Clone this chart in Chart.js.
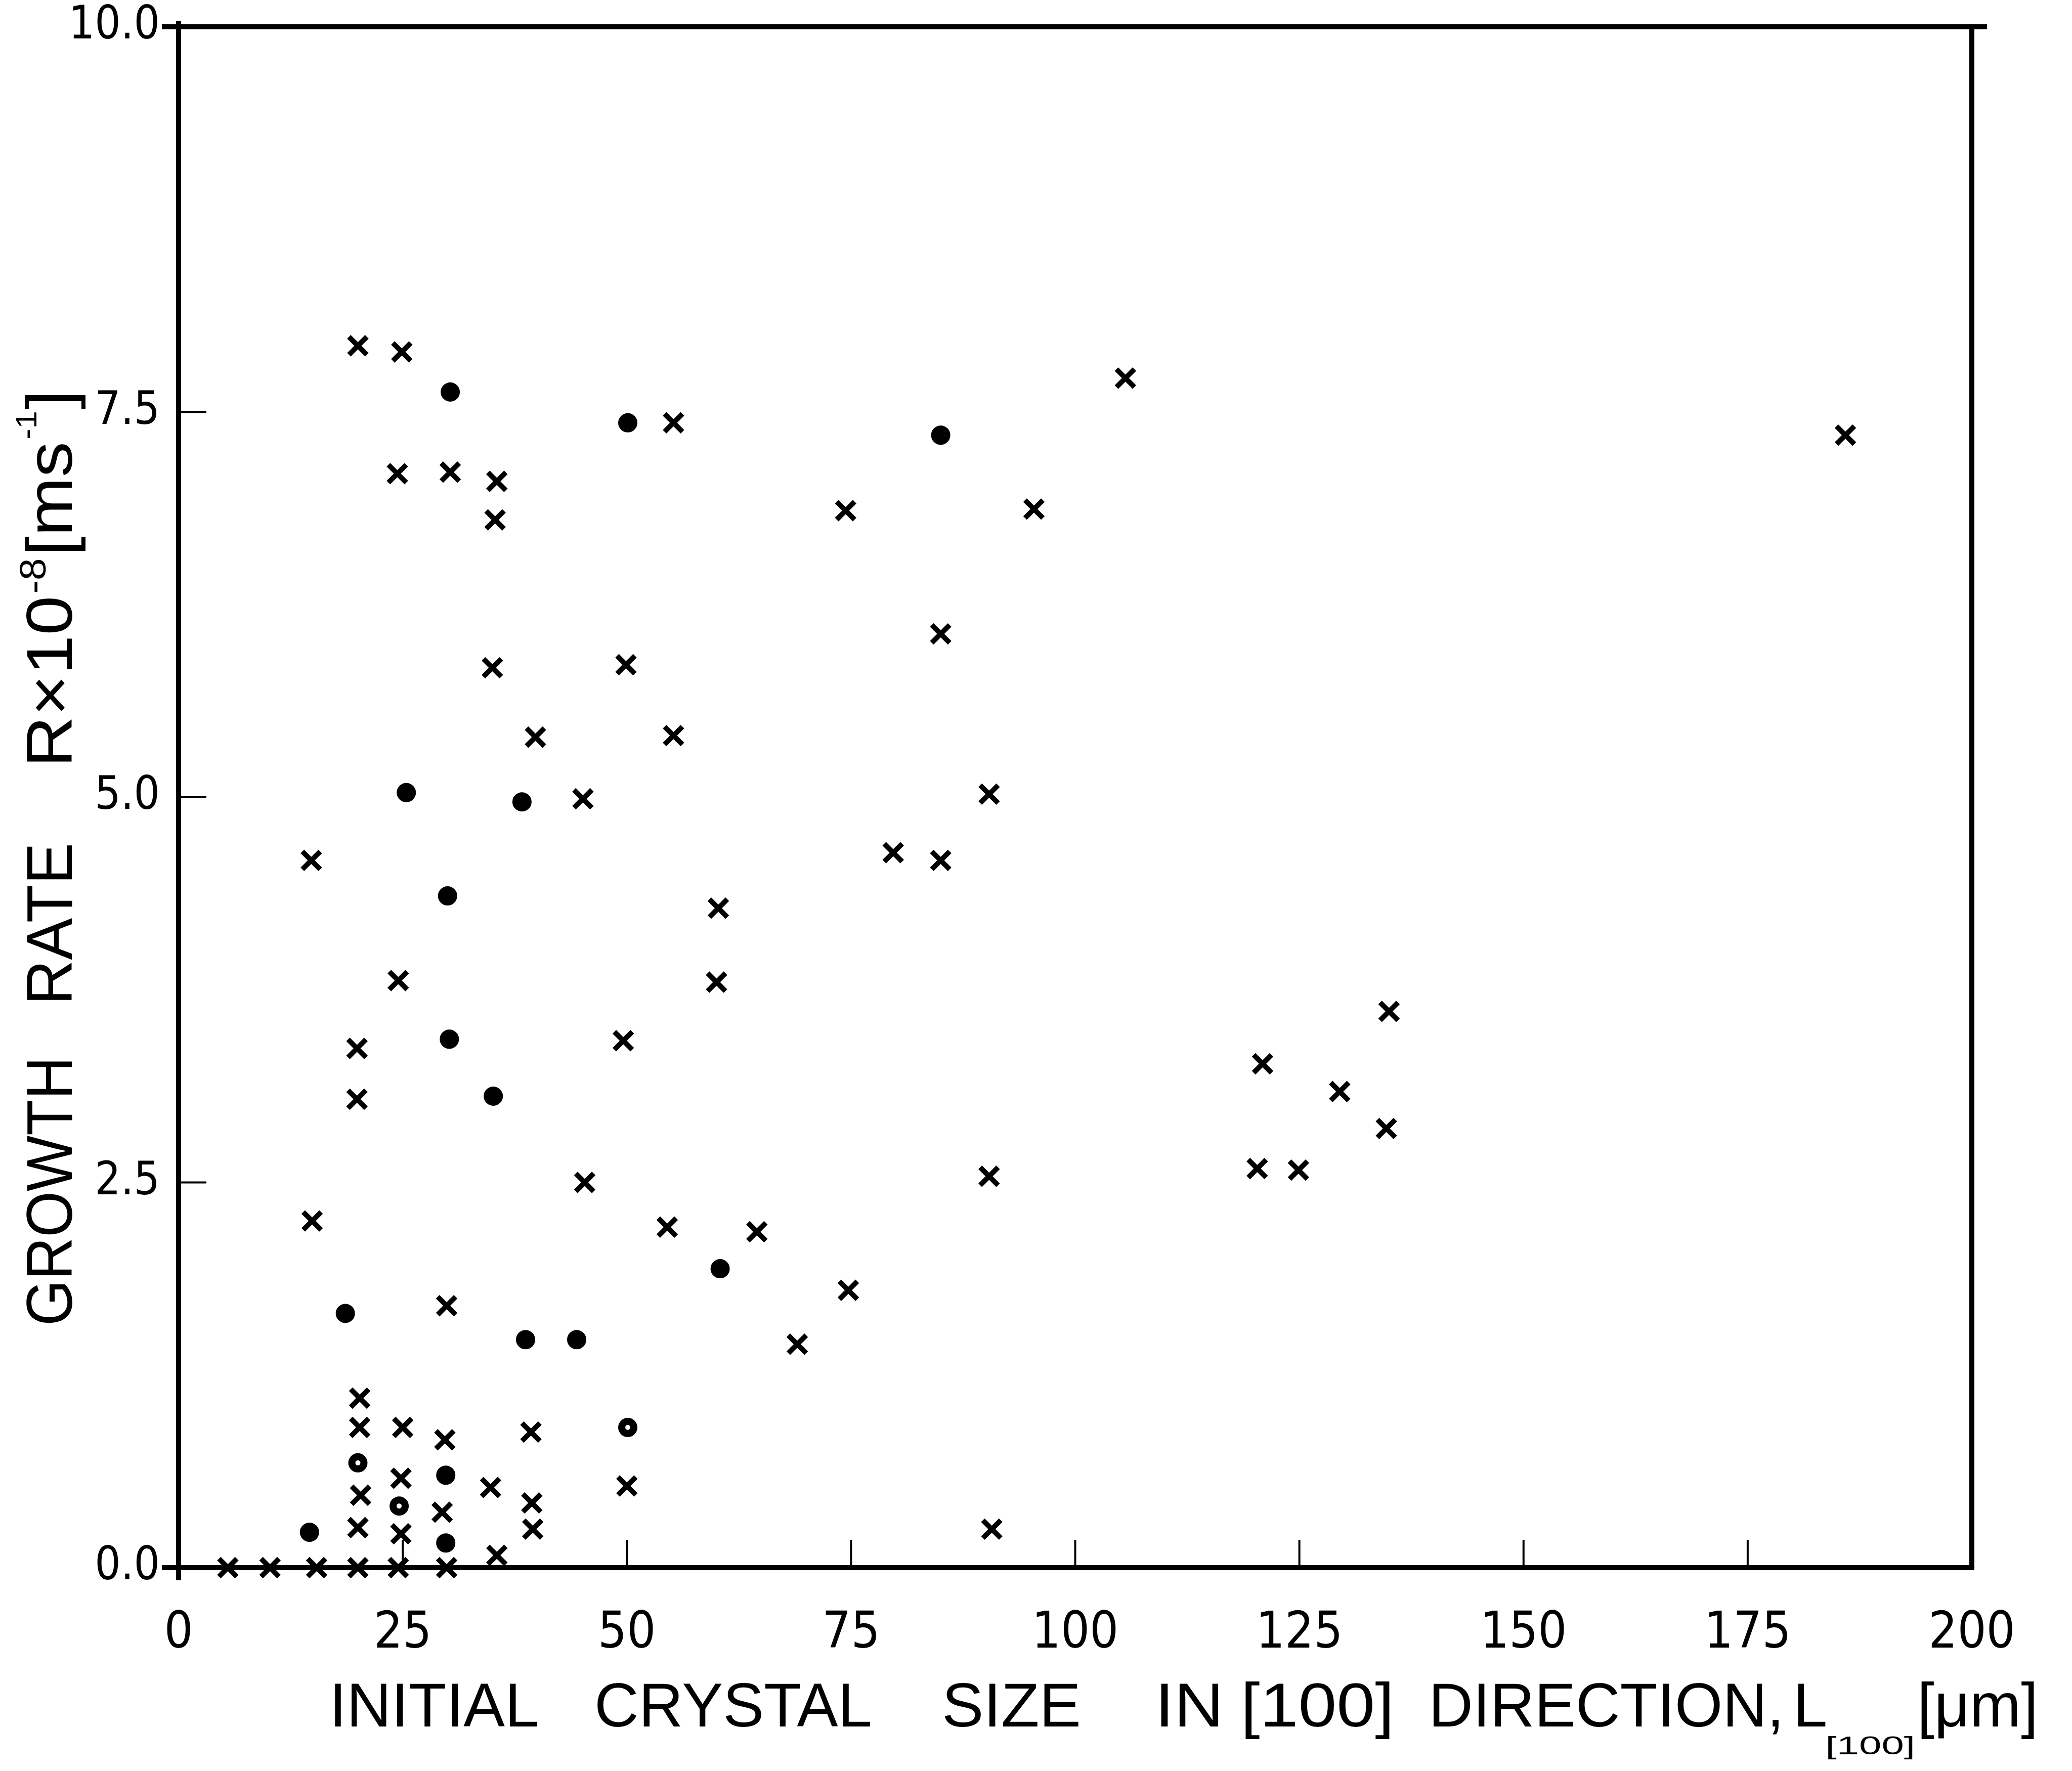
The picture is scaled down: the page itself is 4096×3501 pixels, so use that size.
<!DOCTYPE html>
<html>
<head>
<meta charset="utf-8">
<script src="https://cdn.jsdelivr.net/npm/chart.js@4/dist/chart.umd.min.js"></script>
<style>
html, body { margin: 0; padding: 0; background: #ffffff; }
canvas { display: block; }
</style>
</head>
<body>
<canvas id="growth" width="4096" height="3501"></canvas>
<script>
// Growth rate R (x 10^-8 m/s) against initial crystal size L[100] (um)

const xTickValues = [0, 25, 50, 75, 100, 125, 150, 175, 200];
const xTickLabels = ['0', '25', '50', '75', '100', '125', '150', '175', '200'];
const yTickValues = [0, 2.5, 5, 7.5, 10];
const yTickLabels = ['0.0', '2.5', '5.0', '7.5', '10.0'];

// crosses
const crossX = [5.5, 10.2, 15.4, 20.0, 24.5, 29.9,
  20.2, 20.2, 25.0, 29.7, 39.3, 34.8, 39.4, 50.0, 20.3, 24.8, 29.4, 39.5, 20.0, 24.8, 35.5, 29.9, 90.7,
  14.9, 54.5, 64.5, 45.3, 19.9, 19.9, 49.6, 24.5, 60.0, 60.2, 14.8, 45.1, 39.8, 55.2, 35.0, 49.9, 35.3,
  24.4, 30.3, 35.5, 55.2, 20.0, 24.9,
  105.6, 74.4, 95.4, 85.0, 90.4, 79.7, 85.0, 135.0, 120.9, 129.5, 134.7, 120.3, 124.9, 90.4, 74.7, 69.0, 185.9];
const crossY = [0, 0, 0, 0, 0, 0,
  1.10, 0.91, 0.91, 0.83, 0.88, 0.52, 0.42, 0.53, 0.47, 0.58, 0.36, 0.25, 0.26, 0.22, 0.08, 1.70, 0.25,
  2.25, 2.21, 2.18, 2.50, 3.04, 3.37, 3.42, 3.81, 3.80, 4.28, 4.59, 4.99, 5.39, 5.40, 5.84, 5.86, 6.80,
  7.10, 7.11, 7.05, 7.43, 7.93, 7.89,
  7.72, 6.86, 6.87, 6.06, 5.02, 4.64, 4.59, 3.61, 3.27, 3.09, 2.85, 2.59, 2.58, 2.54, 1.80, 1.45, 7.35];

// filled circles
const dotX = [18.6, 38.7, 44.4, 29.8, 14.6, 29.8, 60.4, 35.1, 30.2, 30.0, 25.4, 38.3, 30.3, 50.1, 85.0];
const dotY = [1.65, 1.48, 1.48, 0.60, 0.23, 0.16, 1.94, 3.06, 3.43, 4.36, 5.03, 4.97, 7.63, 7.43, 7.35];

// circles with a small open centre
const ringX = [20.0, 24.6, 50.1];
const ringY = [0.68, 0.40, 0.91];

const INK = '#000000';
const TICK_FONT = "'Liberation Sans Narrow', 'DejaVu Sans Condensed', 'Liberation Sans', sans-serif";
const TITLE_FONT = "'Liberation Sans', 'DejaVu Sans', sans-serif";

function toPoints(xs, ys) {
  return xs.map((x, i) => ({ x: x, y: ys[i] }));
}

// Draws a run of text pieces (with optional super/subscript shifts and
// per-piece widening) fitted to a given length.
function drawRun(ctx, parts, start, length, baseline) {
  const widths = parts.map(p => {
    ctx.font = p.size + 'px ' + TITLE_FONT;
    return ctx.measureText(p.t).width * (p.sx || 1);
  });
  let natural = 0;
  parts.forEach((p, i) => { natural += (p.gap || 0) + widths[i]; });
  ctx.save();
  ctx.translate(start, baseline);
  ctx.scale(length / natural, 1);
  let cx = 0;
  ctx.textAlign = 'left';
  ctx.textBaseline = 'alphabetic';
  ctx.fillStyle = INK;
  parts.forEach((p, i) => {
    cx += p.gap || 0;
    ctx.font = p.size + 'px ' + TITLE_FONT;
    ctx.save();
    ctx.translate(cx, p.shift || 0);
    ctx.scale(p.sx || 1, 1);
    ctx.fillText(p.t, 0, 0);
    ctx.restore();
    cx += widths[i];
  });
  ctx.restore();
}

const framePlugin = {
  id: 'frame',
  beforeDatasetsDraw(chart) {
    const { ctx, chartArea: a, scales } = chart;
    ctx.save();
    ctx.strokeStyle = INK;
    ctx.lineCap = 'butt';
    // heavy frame
    ctx.lineWidth = 10;
    ctx.beginPath();
    ctx.moveTo(a.left - 33, a.top); ctx.lineTo(a.right + 30, a.top);
    ctx.moveTo(a.left - 33, a.bottom); ctx.lineTo(a.right + 5, a.bottom);
    ctx.moveTo(a.left, a.top - 12); ctx.lineTo(a.left, a.bottom + 25);
    ctx.moveTo(a.right, a.top); ctx.lineTo(a.right, a.bottom + 5);
    ctx.stroke();
    // inward tick marks
    ctx.lineWidth = 4;
    ctx.beginPath();
    xTickValues.slice(1, -1).forEach(v => {
      const px = scales.x.getPixelForValue(v);
      ctx.moveTo(px, a.bottom); ctx.lineTo(px, a.bottom - 55);
    });
    yTickValues.slice(1, -1).forEach(v => {
      const py = scales.y.getPixelForValue(v);
      ctx.moveTo(a.left, py); ctx.lineTo(a.left + 55, py);
    });
    ctx.stroke();
    ctx.restore();
  },
  afterDraw(chart) {
    const ctx = chart.ctx;
    // x-axis title
    drawRun(ctx, [{ t: 'INITIAL', size: 122 }], 651, 415, 3413);
    drawRun(ctx, [{ t: 'CRYSTAL', size: 122 }], 1175, 549, 3413);
    drawRun(ctx, [{ t: 'SIZE', size: 122 }], 1862, 275, 3413);
    drawRun(ctx, [{ t: 'IN', size: 122 }, { t: '[100]', size: 122, gap: 30 }], 2283, 473, 3413);
    drawRun(ctx, [
      { t: 'DIRECTION,', size: 122 },
      { t: 'L', size: 122, gap: 18 },
      { t: '[100]', size: 50, shift: 55, gap: -4, sx: 1.6 },
      { t: '[\u03bcm]', size: 122, gap: 4 }
    ], 2824, 1205, 3413);
    // y-axis title, reading upwards
    ctx.save();
    ctx.translate(142, 0);
    ctx.rotate(-Math.PI / 2);
    drawRun(ctx, [{ t: 'GROWTH', size: 128 }], -2621, 532, 0);
    drawRun(ctx, [{ t: 'RATE', size: 128 }], -1987, 321, 0);
    drawRun(ctx, [
      { t: 'R\u00d710', size: 128 },
      { t: '-8', size: 72, shift: -52, gap: 4 },
      { t: '[ms', size: 128, gap: 4 },
      { t: '-1', size: 58, shift: -70, gap: 4 },
      { t: ']', size: 128, gap: 2 }
    ], -1517, 746, 0);
    ctx.restore();
  }
};

const ctx = document.getElementById('growth').getContext('2d');

new Chart(ctx, {
  type: 'scatter',
  data: {
    datasets: [
      {
        label: 'crosses',
        data: toPoints(crossX, crossY),
        pointStyle: 'crossRot',
        pointRadius: 25,
        pointBorderWidth: 10,
        borderColor: INK,
        backgroundColor: INK,
        clip: false
      },
      {
        label: 'filled circles',
        data: toPoints(dotX, dotY),
        pointStyle: 'circle',
        pointRadius: 17,
        pointBorderWidth: 4,
        borderColor: INK,
        backgroundColor: INK,
        clip: false
      },
      {
        label: 'open-centre circles',
        data: toPoints(ringX, ringY),
        pointStyle: 'circle',
        pointRadius: 12,
        pointBorderWidth: 14,
        borderColor: INK,
        backgroundColor: '#ffffff',
        clip: false
      }
    ]
  },
  options: {
    responsive: false,
    devicePixelRatio: 1,
    animation: false,
    events: [],
    layout: { padding: { left: 0, top: 53, right: 198, bottom: 0 } },
    plugins: {
      legend: { display: false },
      tooltip: { enabled: false },
      title: { display: false }
    },
    scales: {
      x: {
        type: 'linear',
        min: 0,
        max: 200,
        afterFit(scale) {
          scale.height = 402;
          scale.paddingLeft = 0;
          scale.paddingRight = 0;
        },
        afterBuildTicks(scale) { scale.ticks = xTickValues.map(v => ({ value: v })); },
        grid: { display: false, drawTicks: false },
        border: { display: false },
        ticks: {
          autoSkip: false,
          maxRotation: 0,
          padding: 72,
          color: INK,
          font: { family: TICK_FONT, size: 100 },
          callback: (v, i) => xTickLabels[i]
        },
        title: { display: false }
      },
      y: {
        type: 'linear',
        min: 0,
        max: 10,
        afterFit(scale) {
          scale.width = 353;
          scale.paddingTop = 0;
          scale.paddingBottom = 0;
        },
        afterBuildTicks(scale) { scale.ticks = yTickValues.map(v => ({ value: v })); },
        grid: { display: false, drawTicks: false },
        border: { display: false },
        ticks: {
          autoSkip: false,
          padding: 37,
          color: INK,
          font: { family: TICK_FONT, size: 90 },
          callback: (v, i) => yTickLabels[i]
        },
        title: { display: false }
      }
    }
  },
  plugins: [framePlugin]
});
</script>
</body>
</html>
